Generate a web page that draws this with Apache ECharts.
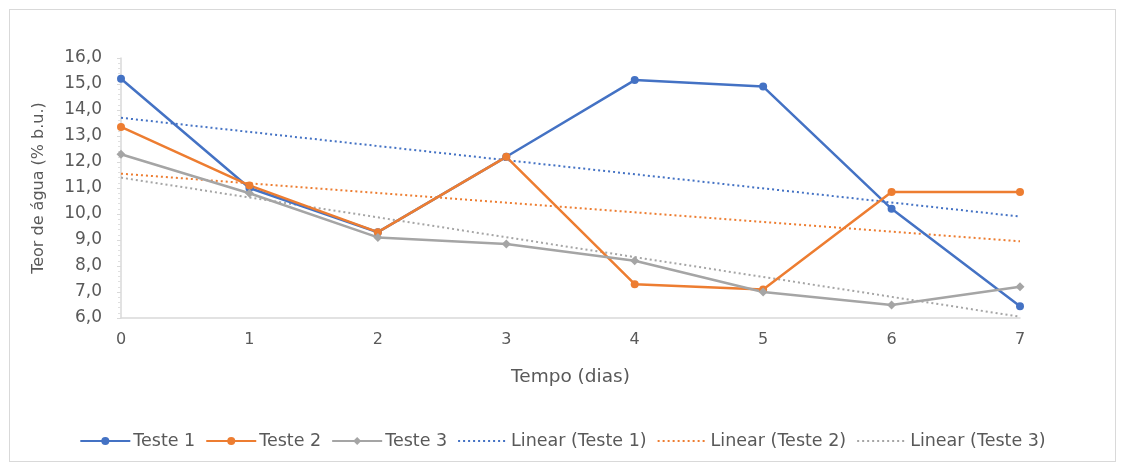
<!DOCTYPE html>
<html><head><meta charset="utf-8">
<script src="https://cdn.jsdelivr.net/npm/echarts@6/dist/echarts.min.js"></script>
<style>html,body{margin:0;padding:0;background:#fff}#wrap{position:absolute;left:9px;top:9px;width:1107px;height:453px;border:1px solid #d9d9d9;box-sizing:border-box}#c{position:absolute;left:0;top:0;width:1125px;height:471px}</style>
</head><body><div id="wrap"></div><div id="c"></div>
<script>
const categories = ['0','1','2','3','4','5','6','7'];
const teste1 = [15.2, 11.0, 9.3, 12.2, 15.15, 14.9, 10.2, 6.45];
const teste2 = [13.35, 11.1, 9.3, 12.2, 7.3, 7.1, 10.85, 10.85];
const teste3 = [12.3, 10.8, 9.1, 8.85, 8.2, 7.0, 6.5, 7.2];
// trend line endpoints (day 0, day 7)
const linear1 = [13.7, 9.9];
const linear2 = [11.55, 8.95];
const linear3 = [11.4, 6.05];
const yTicks = [6,7,8,9,10,11,12,13,14,15,16];
const names = ['Teste 1','Teste 2','Teste 3','Linear (Teste 1)','Linear (Teste 2)','Linear (Teste 3)'];
const colors = ['#4472C4','#ED7D31','#A5A5A5'];

const FONT = 'DejaVu Sans, sans-serif';
const chart = echarts.init(document.getElementById('c'));
function main(name, data, color, symbol){
  return {name, type:'line', data, color, symbol, symbolSize: symbol==='diamond'?9:8,
    lineStyle:{width:2.5,color}, itemStyle:{color}, z:3};
}
function trend(name, ends, color){
  return {name, type:'line', data:[[0,ends[0]],[categories.length-1,ends[1]]], color,
    symbol:'none', lineStyle:{width:2,type:[2,3],color}, itemStyle:{color}, z:2};
}
chart.setOption({
  animation:false,
  textStyle:{fontFamily:FONT},
  grid:{left:121,right:105,top:58,bottom:153},
  legend:{bottom:16,left:'center',itemWidth:50,itemHeight:10,itemGap:10,
    textStyle:{color:'#595959',fontSize:17.5,fontFamily:FONT,padding:[0,0,0,-2]},
    data:names.map((n,i)=> i<3 ? {name:n} : {name:n, itemStyle:{opacity:0}})},
  xAxis:{type:'category',data:categories,boundaryGap:false,
    name:'Tempo (dias)',nameLocation:'middle',nameGap:50,
    nameTextStyle:{color:'#595959',fontSize:18.5,fontFamily:FONT},
    axisLine:{lineStyle:{color:'#d9d9d9',width:1.5}},axisTick:{show:false},
    axisLabel:{color:'#595959',fontSize:16,margin:14,fontFamily:FONT},splitLine:{show:false}},
  yAxis:{type:'value',min:yTicks[0],max:yTicks[yTicks.length-1],interval:1,
    name:'Teor de água (% b.u.)',nameLocation:'middle',nameGap:74,
    nameTextStyle:{color:'#595959',fontSize:16,fontFamily:FONT},
    axisLine:{show:true,lineStyle:{color:'#d9d9d9',width:1.5}},
    axisTick:{show:true,inside:false,length:4,lineStyle:{color:'#d9d9d9'}},
    minorTick:{show:true,splitNumber:5,length:3,lineStyle:{color:'#e0e0e0'}},
    axisLabel:{color:'#595959',fontSize:17,margin:19,fontFamily:FONT,formatter:v=>v.toFixed(1).replace('.',',')},
    splitLine:{show:false}},
  series:[
    main(names[0],teste1,colors[0],'circle'),
    main(names[1],teste2,colors[1],'circle'),
    main(names[2],teste3,colors[2],'diamond'),
    trend(names[3],linear1,colors[0]),
    trend(names[4],linear2,colors[1]),
    trend(names[5],linear3,colors[2])
  ]
});
</script></body></html>
